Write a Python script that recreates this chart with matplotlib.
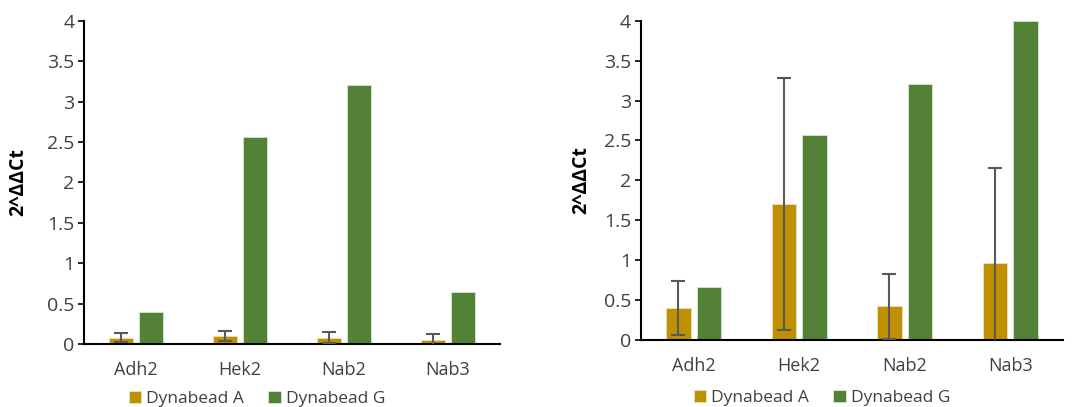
import numpy as np
import matplotlib
matplotlib.use("Agg")
import matplotlib.pyplot as plt

plt.rcParams["font.family"] = ["Open Sans", "DejaVu Sans"]

genes = ["Adh2", "Hek2", "Nab2", "Nab3"]
series = ["Dynabead A", "Dynabead G"]

# left panel
left_a = [0.08, 0.10, 0.08, 0.05]
left_a_err = [0.05, 0.06, 0.07, 0.07]
left_g = [0.39, 2.56, 3.21, 0.64]

# right panel
right_a = [0.40, 1.70, 0.42, 0.96]
right_a_err = [0.34, 1.58, 0.41, 1.19]
right_g = [0.67, 2.57, 3.21, 4.0]

col_a = "#BF9000"
col_g = "#538135"
err_col = "#595959"
txt_col = "#404040"

fig = plt.figure(figsize=(10.83, 4.07), dpi=100)
ax1 = fig.add_axes([0.0776, 0.1548, 0.3841, 0.7943])
ax2 = fig.add_axes([0.5918, 0.1646, 0.3897, 0.7845])


def draw(ax, a, a_err, g):
    x = np.arange(len(genes))
    w = 0.23
    off = 0.145
    ba = ax.bar(x - off, a, w, color=col_a, edgecolor="#e8e0c0", linewidth=0.6,
                label=series[0], zorder=2)
    ax.errorbar(x - off, a, yerr=a_err, fmt="none", ecolor=err_col, elinewidth=1.5,
                capsize=5, capthick=1.5, zorder=3)
    bg = ax.bar(x + off, g, w, color=col_g, edgecolor="#d8e6d0", linewidth=0.6,
                label=series[1], zorder=2)
    ax.set_xlim(-0.5, len(genes) - 0.5)
    ax.set_ylim(0, 4)
    ticks = np.arange(0, 4.01, 0.5)
    ax.set_yticks(ticks)
    ax.set_yticklabels([f"{v:g}" for v in ticks])
    ax.set_xticks(x)
    ax.set_xticklabels(genes)
    ax.tick_params(axis="x", length=0, pad=12, labelsize=13, colors=txt_col)
    ax.tick_params(axis="y", length=4, width=1.2, labelsize=14, colors=txt_col, pad=3)
    ax.tick_params(axis="y", color="black")
    for s in ["top", "right"]:
        ax.spines[s].set_visible(False)
    for s in ["left", "bottom"]:
        ax.spines[s].set_linewidth(1.5)
        ax.spines[s].set_color("black")
    ax.set_ylabel("2^ΔΔCt", fontsize=14, fontweight="bold", color="black")
    return ba, bg


h1 = draw(ax1, left_a, left_a_err, left_g)
ax1.yaxis.set_label_coords(-0.135, 0.5)
h2 = draw(ax2, right_a, right_a_err, right_g)
ax2.yaxis.set_label_coords(-0.118, 0.5)

leg_kw = dict(loc="center", ncol=2, frameon=False, fontsize=12.5, handlelength=0.7,
              handleheight=0.7, columnspacing=1.4, handletextpad=0.3, labelcolor=txt_col)
fig.legend(h1, series, bbox_to_anchor=(257 / 1083, 1 - 399 / 407), **leg_kw)
fig.legend(h2, series, bbox_to_anchor=(822 / 1083, 1 - 398 / 407), **leg_kw)

fig.savefig("out.png", dpi=100)
